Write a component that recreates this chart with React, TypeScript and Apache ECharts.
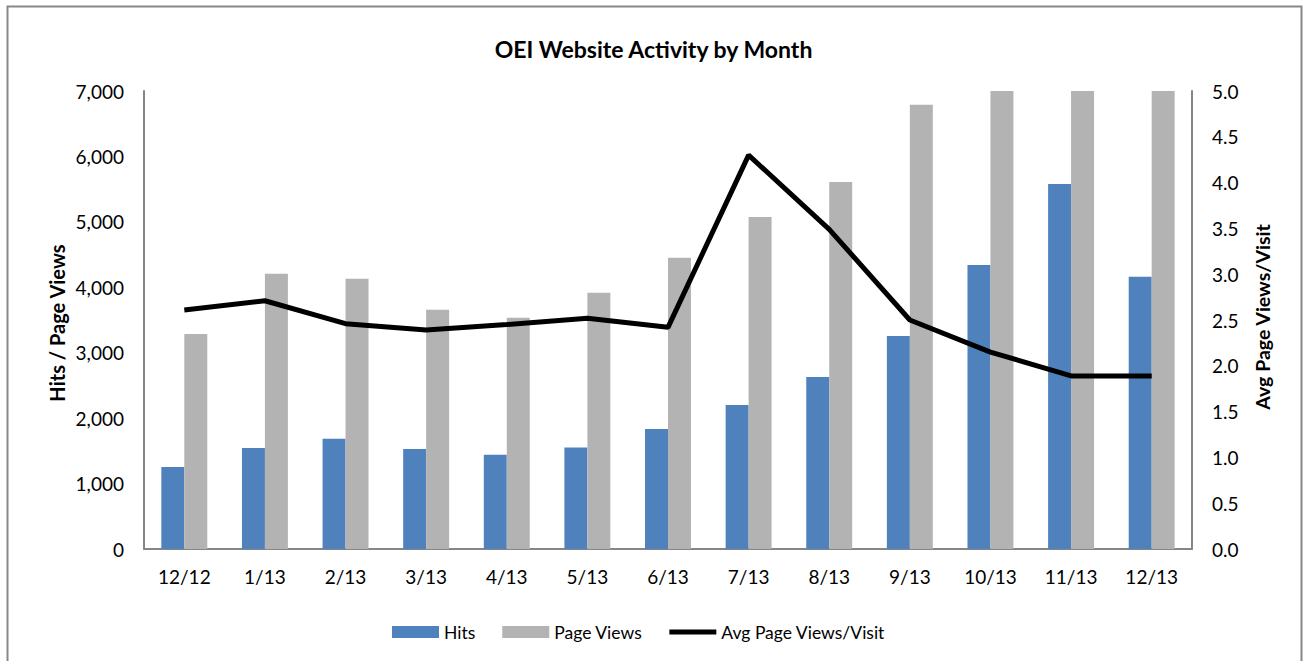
import React, { useEffect, useRef } from "react";
import * as echarts from "echarts";

const months = ["12/12", "1/13", "2/13", "3/13", "4/13", "5/13", "6/13", "7/13", "8/13", "9/13", "10/13", "11/13", "12/13"];
const hits = [1255, 1545, 1685, 1530, 1440, 1550, 1835, 2200, 2630, 3255, 4340, 5580, 4160];
const pageViews = [3285, 4205, 4130, 3655, 3535, 3915, 4450, 5075, 5610, 6790, 7600, 8200, 7900];
const avgPerVisit = [2.61, 2.71, 2.46, 2.39, 2.45, 2.52, 2.42, 4.30, 3.49, 2.50, 2.15, 1.89, 1.89];
const leftTicks = { min: 0, max: 7000, interval: 1000 };
const rightTicks = { min: 0, max: 5, interval: 0.5 };

const FONT = "Lato, 'Open Sans', sans-serif";

export default function App() {
  const ref = useRef<HTMLDivElement>(null);
  useEffect(() => {
    if (!ref.current) return;
    const chart = echarts.init(ref.current, null, { renderer: "svg" });
    const axisLine = { show: true, lineStyle: { color: "#868686", width: 2 } };
    chart.setOption({
      animation: false,
      backgroundColor: "#ffffff",
      textStyle: { fontFamily: FONT },
      title: {
        text: "OEI Website Activity by Month",
        left: "center",
        top: 32,
        textStyle: { fontFamily: FONT, fontSize: 23, fontWeight: "bold", color: "#000" },
      },
      grid: { left: 144, right: 115, top: 91, bottom: 112, containLabel: false },
      legend: {
        left: 387,
        top: 618,
        itemWidth: 47,
        itemHeight: 12,
        itemGap: 27,
        textStyle: { fontFamily: FONT, fontSize: 17.5, color: "#000" },
        data: [
          { name: "Hits", icon: "rect" },
          { name: "Page Views", icon: "rect" },
          { name: "Avg Page Views/Visit", icon: "path://M0,0 L47,0 L47,5 L0,5 Z" },
        ],
      },
      xAxis: {
        type: "category",
        data: months,
        axisLine,
        axisTick: { show: false },
        axisLabel: { fontFamily: FONT, fontSize: 19, color: "#000", margin: 18 },
      },
      yAxis: [
        {
          type: "value",
          min: leftTicks.min,
          max: leftTicks.max,
          interval: leftTicks.interval,
          axisLine,
          axisTick: { show: false },
          splitLine: { show: false },
          axisLabel: {
            fontFamily: FONT,
            fontSize: 19,
            color: "#000",
            margin: 20,
            formatter: (v: number) => v.toLocaleString("en-US"),
          },
        },
        {
          type: "value",
          position: "right",
          min: rightTicks.min,
          max: rightTicks.max,
          interval: rightTicks.interval,
          axisLine,
          axisTick: { show: false },
          splitLine: { show: false },
          axisLabel: {
            fontFamily: FONT,
            fontSize: 19,
            color: "#000",
            margin: 20,
            formatter: (v: number) => v.toFixed(1),
          },
        },
      ],
      series: [
        {
          name: "Hits",
          type: "bar",
          data: hits,
          yAxisIndex: 0,
          barGap: "0%",
          barCategoryGap: "43%",
          clip: true,
          itemStyle: { color: "#4F81BD" },
        },
        {
          name: "Page Views",
          type: "bar",
          data: pageViews,
          yAxisIndex: 0,
          barGap: "0%",
          barCategoryGap: "43%",
          clip: true,
          itemStyle: { color: "#B3B3B3" },
        },
        {
          name: "Avg Page Views/Visit",
          type: "line",
          data: avgPerVisit,
          yAxisIndex: 1,
          symbol: "none",
          lineStyle: { color: "#000", width: 5 },
          itemStyle: { color: "#000" },
        },
      ],
      graphic: [
        {
          type: "rect",
          shape: { x: 7.5, y: 6.5, width: 1294, height: 670 },
          style: { fill: "none", stroke: "#888888", lineWidth: 2 },
          silent: true,
        },
        {
          type: "text",
          x: 57,
          y: 323,
          rotation: Math.PI / 2,
          style: {
            text: "Hits / Page Views",
            fontFamily: FONT,
            fontSize: 20,
            fontWeight: "bold",
            fill: "#000",
            align: "center",
            verticalAlign: "middle",
          },
        },
        {
          type: "text",
          x: 1262,
          y: 317,
          rotation: Math.PI / 2,
          style: {
            text: "Avg Page Views/Visit",
            fontFamily: FONT,
            fontSize: 19.5,
            fontWeight: "bold",
            fill: "#000",
            align: "center",
            verticalAlign: "middle",
          },
        },
      ],
    });
    return () => chart.dispose();
  }, []);
  return <div ref={ref} style={{ width: 1307, height: 661, position: "absolute", left: 0, top: 0 }} />;
}
